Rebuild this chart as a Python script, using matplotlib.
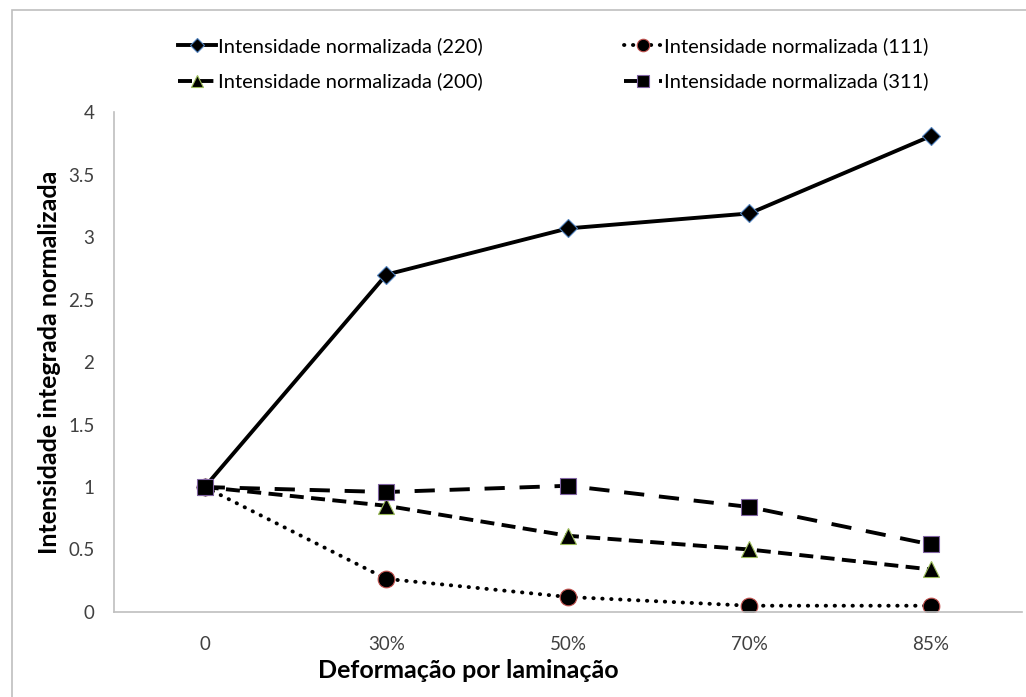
import numpy as np
import matplotlib.pyplot as plt
from matplotlib.patches import Rectangle

# Deformação por laminação (categorias) e intensidades normalizadas
categorias = ['0', '30%', '50%', '70%', '85%']
int_220 = [1.0, 2.70, 3.07, 3.19, 3.81]
int_111 = [1.0, 0.265, 0.12, 0.05, 0.05]
int_200 = [1.0, 0.85, 0.61, 0.50, 0.34]
int_311 = [1.0, 0.96, 1.01, 0.84, 0.54]
y_ticks = [0, 0.5, 1, 1.5, 2, 2.5, 3, 3.5, 4]
y_tick_labels = ['0', '0.5', '1', '1.5', '2', '2.5', '3', '3.5', '4']

plt.rcParams['font.family'] = ['Lato', 'DejaVu Sans']

fig = plt.figure(figsize=(10.26, 6.97), dpi=100)
ax = fig.add_axes([0.111, 0.122, 0.885, 0.717])

x = np.arange(len(categorias))
lw = 2.8

l220, = ax.plot(x, int_220, color='black', lw=lw, ls='-',
                marker='D', ms=9.5, mfc='black', mec='#4F81BD', mew=0.8)
l111, = ax.plot(x, int_111, color='black', lw=lw, ls=(0, (0.1, 2.2)),
                dash_capstyle='round', marker='o', ms=12, mfc='black',
                mec='#C0504D', mew=0.8)
l200, = ax.plot(x, int_200, color='black', lw=lw, ls=(0, (3.6, 1.9)),
                marker='^', ms=12, mfc='black', mec='#9BBB59', mew=0.8)
l311, = ax.plot(x, int_311, color='black', lw=lw, ls=(0, (5.2, 3.8)),
                marker='s', ms=12, mfc='black', mec='#8064A2', mew=0.8)

ax.set_xlim(-0.5, len(categorias) - 0.5)
ax.set_ylim(0, 4)
ax.set_xticks(x)
ax.set_xticklabels(categorias)
ax.set_yticks(y_ticks)
ax.set_yticklabels(y_tick_labels)
ax.tick_params(length=0, labelsize=13.5, colors='#404040')
ax.tick_params(axis='y', pad=14)
ax.tick_params(axis='x', pad=17)
for s in ['top', 'right']:
    ax.spines[s].set_visible(False)
for s in ['left', 'bottom']:
    ax.spines[s].set_color('#BFBFBF')
    ax.spines[s].set_linewidth(1.2)

ax.set_xlabel('Deformação por laminação', fontsize=18, fontweight='bold')
ax.set_ylabel('Intensidade integrada normalizada', fontsize=18, fontweight='bold')
ax.xaxis.set_label_coords(0.39, -0.094)
ax.yaxis.set_label_coords(-0.058, 0.5)

fig.legend([l220, l200, l111, l311],
           ['Intensidade normalizada (220)', 'Intensidade normalizada (200)',
            'Intensidade normalizada (111)', 'Intensidade normalizada (311)'],
           ncol=2, loc='upper left', bbox_to_anchor=(0.156, 0.972),
           frameon=False, fontsize=14.5, handlelength=1.9, handletextpad=0.1,
           columnspacing=7.0, labelspacing=0.85, markerscale=0.75)

# moldura da área do gráfico
fig.patches.append(Rectangle((0.0117, -0.02), 1.0, 1.006, transform=fig.transFigure,
                             fill=False, edgecolor='#BFBFBF', lw=1.2))

fig.savefig('out.png', dpi=100)
